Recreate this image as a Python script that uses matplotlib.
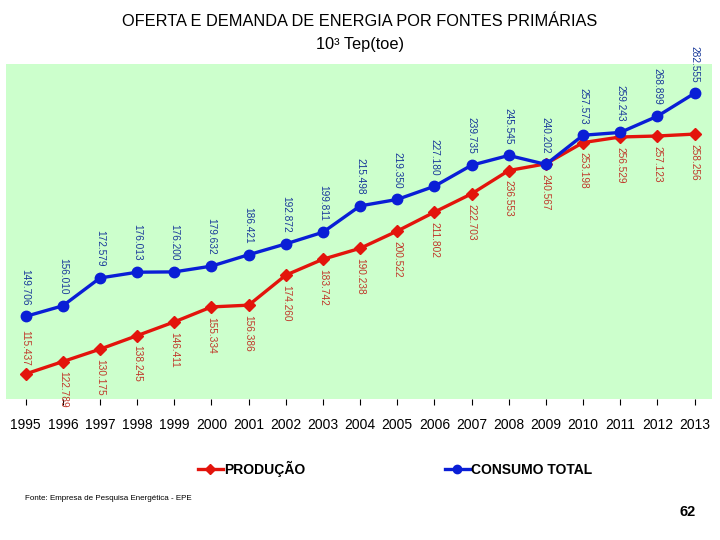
import matplotlib.pyplot as plt

years = list(range(1995, 2014))
consumo = [149.706, 156.010, 172.579, 176.013, 176.200, 179.632, 186.421, 192.872, 199.811,
           215.498, 219.350, 227.180, 239.735, 245.545, 240.202, 257.573, 259.243, 268.899, 282.555]
producao = [115.437, 122.789, 130.175, 138.245, 146.411, 155.334, 156.386, 174.260, 183.742,
            190.238, 200.522, 211.802, 222.703, 236.553, 240.567, 253.198, 256.529, 257.123, 258.256]

plt.rcParams['font.family'] = ['Liberation Sans', 'DejaVu Sans']

fig = plt.figure(figsize=(7.2, 5.4), dpi=100)
ax = fig.add_axes([6/720, 1 - 399/540, 706/720, 335/540])
ax.set_facecolor('#ccffcc')
for s in ax.spines.values():
    s.set_visible(False)

ax.plot(years, producao, color='#e3140c', lw=2.4, marker='D', ms=6.5, label='PRODUÇÃO')
ax.plot(years, consumo, color='#0a1ed6', lw=2.4, marker='o', ms=7.5, label='CONSUMO TOTAL')

def fmt(v):
    return f"{v:.3f}"

for i, (x, v) in enumerate(zip(years, consumo)):
    ax.annotate(fmt(v), (x, v), xytext=(0, 8), textcoords='offset points', rotation=-90,
                ha='center', va='bottom', fontsize=7.3, color='#1a3a9a')
for i, (x, v) in enumerate(zip(years, producao)):
    if i == 0:
        ax.annotate(fmt(v), (x, v), xytext=(0, 6), textcoords='offset points', rotation=-90,
                    ha='center', va='bottom', fontsize=7.3, color='#c0392b')
    else:
        ax.annotate(fmt(v), (x, v), xytext=(0, -7), textcoords='offset points', rotation=-90,
                    ha='center', va='top', fontsize=7.3, color='#c0392b')

ax.set_xlim(1994.47, 2013.47)
ax.set_ylim(100.5, 300)
ax.set_yticks([])
ax.set_xticks(years)
ax.set_xticklabels([str(y) for y in years], fontsize=10)
ax.tick_params(axis='x', length=4, pad=10)

fig.text(0.5, 1 - 22/540, 'OFERTA E DEMANDA DE ENERGIA POR FONTES PRIMÁRIAS', ha='center', va='center', fontsize=11.8)
fig.text(0.5, 1 - 45/540, '10³ Tep(toe)', ha='center', va='center', fontsize=11.8)

fig.legend(loc='center', bbox_to_anchor=(395/720, 1 - 469/540), ncol=2, frameon=False,
           columnspacing=10, handlelength=1.8, handletextpad=0.1, markerscale=0.8,
           prop={'weight': 'bold', 'size': 10})

fig.text(25/720, 1 - 499/540, 'Fonte: Empresa de Pesquisa Energética - EPE', ha='left', va='center', fontsize=5.8)
fig.text(688/720, 1 - 512/540, '62', ha='center', va='center', fontsize=10.5, weight='bold')

fig.savefig('out.png')
